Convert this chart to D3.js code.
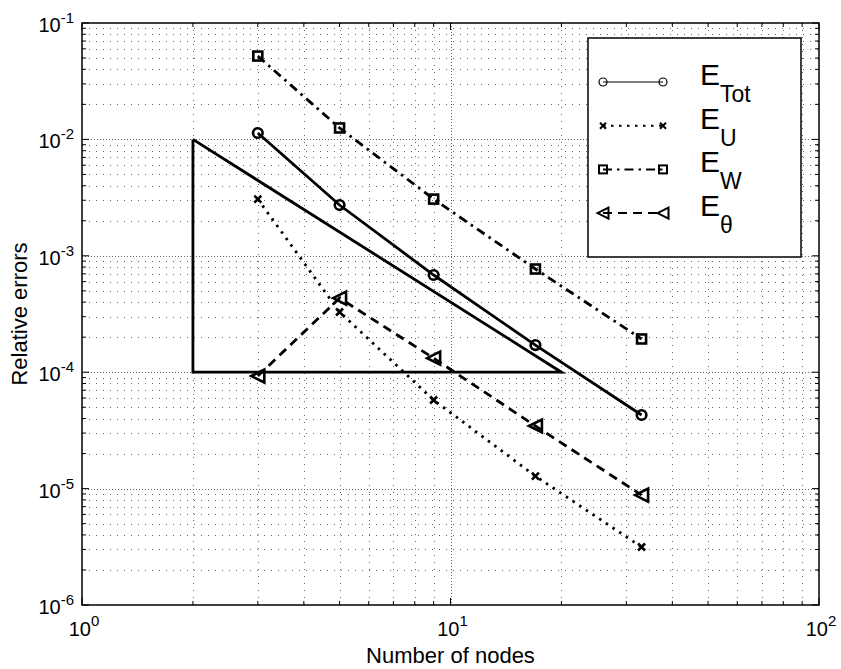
<!DOCTYPE html>
<html>
<head>
<meta charset="utf-8">
<script src="https://cdn.jsdelivr.net/npm/d3@7"></script>
<style>
body { margin: 0; background: #fff; }
text { font-family: "Liberation Sans", Arial, Helvetica, sans-serif; fill: #000; }
</style>
</head>
<body>
<script>
// number of nodes (x) and the four error series
var nodes = [3, 5, 9, 17, 33];
var eTot = [1.135e-2, 2.73e-3, 6.84e-4, 1.71e-4, 4.29e-5];
var eU = [3.07e-3, 3.29e-4, 5.77e-5, 1.28e-5, 3.15e-6];
var eW = [5.2e-2, 1.254e-2, 3.07e-3, 7.7e-4, 1.93e-4];
var eTheta = [9.27e-5, 4.33e-4, 1.32e-4, 3.45e-5, 8.8e-6];
// slope triangle
var triX = [2, 2, 20, 2];
var triY = [1e-2, 1e-4, 1e-4, 1e-2];
var xDecades = [0, 1, 2];
var yDecades = [-6, -5, -4, -3, -2, -1];
var legendNames = ["Tot", "U", "W", "\u03b8"];

var W = 841, H = 669;
// plot box (note: "top" is reserved on window, so short names here)
var pL = 82, pR = 819, pT = 23, pB = 605;

var svg = d3.select("body").append("svg")
  .attr("width", W).attr("height", H);

var x = d3.scaleLog().domain([1, 100]).range([pL, pR]);
var y = d3.scaleLog().domain([1e-6, 1e-1]).range([pB, pT]);

// minor / major positions
var xMinor = [], yMinor = [];
[1, 10].forEach(function(d) { for (var k = 2; k <= 9; k++) xMinor.push(d * k); });
[1e-6, 1e-5, 1e-4, 1e-3, 1e-2].forEach(function(d) { for (var k = 2; k <= 9; k++) yMinor.push(d * k); });
var xMajor = xDecades.map(function(e) { return Math.pow(10, e); });
var yMajor = yDecades.map(function(e) { return Math.pow(10, e); });

var grid = svg.append("g").attr("stroke", "#555").attr("stroke-width", 0.9);
grid.selectAll(".gxm").data(xMinor).enter().append("line")
  .attr("x1", function(d) { return Math.round(x(d)) + 0.5; })
  .attr("x2", function(d) { return Math.round(x(d)) + 0.5; })
  .attr("y1", pT).attr("y2", pB)
  .attr("stroke-dasharray", "1,6");
grid.selectAll(".gym").data(yMinor).enter().append("line")
  .attr("y1", function(d) { return Math.round(y(d)) + 0.5; })
  .attr("y2", function(d) { return Math.round(y(d)) + 0.5; })
  .attr("x1", pL).attr("x2", pR)
  .attr("stroke-dasharray", "1,6");
grid.selectAll(".gxM").data(xMajor.slice(1, -1)).enter().append("line")
  .attr("x1", function(d) { return Math.round(x(d)) + 0.5; })
  .attr("x2", function(d) { return Math.round(x(d)) + 0.5; })
  .attr("y1", pT).attr("y2", pB)
  .attr("stroke-dasharray", "1,2");
grid.selectAll(".gyM").data(yMajor.slice(1, -1)).enter().append("line")
  .attr("y1", function(d) { return Math.round(y(d)) + 0.5; })
  .attr("y2", function(d) { return Math.round(y(d)) + 0.5; })
  .attr("x1", pL).attr("x2", pR)
  .attr("stroke-dasharray", "1,2");

// slope triangle
var line = d3.line().x(function(d) { return x(d[0]); }).y(function(d) { return y(d[1]); });
svg.append("path")
  .attr("d", line(d3.zip(triX, triY)))
  .attr("fill", "none").attr("stroke", "#000").attr("stroke-width", 2.8)
  .attr("stroke-linejoin", "miter");

var series = [
  { vals: eTot, dash: null, marker: "circle" },
  { vals: eU, dash: "2.5,5.5", marker: "x" },
  { vals: eW, dash: "9,5,2.5,5", marker: "square" },
  { vals: eTheta, dash: "9,6", marker: "tri" }
];

function drawMarker(g, type, cx, cy, s, sw) {
  if (type === "circle") {
    g.append("circle").attr("cx", cx).attr("cy", cy).attr("r", s)
      .attr("fill", "none").attr("stroke", "#000").attr("stroke-width", sw);
  } else if (type === "x") {
    g.append("path")
      .attr("d", "M" + (cx - s) + "," + (cy - s) + "L" + (cx + s) + "," + (cy + s) +
        "M" + (cx - s) + "," + (cy + s) + "L" + (cx + s) + "," + (cy - s))
      .attr("stroke", "#000").attr("stroke-width", sw);
  } else if (type === "square") {
    g.append("rect").attr("x", cx - s).attr("y", cy - s).attr("width", 2 * s).attr("height", 2 * s)
      .attr("fill", "none").attr("stroke", "#000").attr("stroke-width", sw);
  } else if (type === "tri") {
    g.append("path")
      .attr("d", "M" + (cx - s) + "," + cy + "L" + (cx + s) + "," + (cy - s) +
        "L" + (cx + s) + "," + (cy + s) + "Z")
      .attr("fill", "none").attr("stroke", "#000").attr("stroke-width", sw)
      .attr("stroke-linejoin", "miter");
  }
}

series.forEach(function(s) {
  svg.append("path")
    .attr("d", line(d3.zip(nodes, s.vals)))
    .attr("fill", "none").attr("stroke", "#000").attr("stroke-width", 2.8)
    .attr("stroke-dasharray", s.dash);
  var mg = svg.append("g");
  nodes.forEach(function(n, i) {
    var size = s.marker === "circle" ? 4.8 : (s.marker === "x" ? 3.5 : (s.marker === "square" ? 4.5 : 6.5));
    drawMarker(mg, s.marker, x(n), y(s.vals[i]), size, 2.6);
  });
});

// axes box and ticks (inside, all four sides)
var ax = svg.append("g").attr("stroke", "#000").attr("stroke-width", 1);
ax.append("rect").attr("x", pL).attr("y", pT).attr("width", pR - pL).attr("height", pB - pT)
  .attr("fill", "none").attr("stroke-width", 1.5);
function xt(vals, len) {
  vals.forEach(function(v) {
    var px = x(v);
    ax.append("line").attr("x1", px).attr("x2", px).attr("y1", pB).attr("y2", pB - len);
    ax.append("line").attr("x1", px).attr("x2", px).attr("y1", pT).attr("y2", pT + len);
  });
}
function yt(vals, len) {
  vals.forEach(function(v) {
    var py = y(v);
    ax.append("line").attr("y1", py).attr("y2", py).attr("x1", pL).attr("x2", pL + len);
    ax.append("line").attr("y1", py).attr("y2", py).attr("x1", pR).attr("x2", pR - len);
  });
}
xt(xMinor, 4); xt(xMajor, 7);
yt(yMinor, 4); yt(yMajor, 7);

// tick labels
xDecades.forEach(function(e) {
  var t = svg.append("text").attr("x", x(Math.pow(10, e)) + 2).attr("y", 636)
    .attr("font-size", 20).attr("text-anchor", "middle");
  t.append("tspan").text("10");
  t.append("tspan").attr("dy", -10).attr("font-size", 15).text(e);
});
yDecades.forEach(function(e) {
  var t = svg.append("text").attr("x", 74).attr("y", y(Math.pow(10, e)) + 9)
    .attr("font-size", 20).attr("text-anchor", "end");
  t.append("tspan").text("10");
  t.append("tspan").attr("dy", -9).attr("font-size", 15).text(e);
});

svg.append("text").attr("x", (pL + pR) / 2).attr("y", 663)
  .attr("text-anchor", "middle").attr("font-size", 22).text("Number of nodes");
svg.append("text").attr("transform", "translate(27," + ((pT + pB) / 2) + ") rotate(-90)")
  .attr("text-anchor", "middle").attr("font-size", 22).text("Relative errors");

// legend
var lg = svg.append("g");
lg.append("rect").attr("x", 588).attr("y", 38).attr("width", 213).attr("height", 219)
  .attr("fill", "#fff").attr("stroke", "#000").attr("stroke-width", 1.5);
series.forEach(function(s, i) {
  var ly = 82 + i * 43.7;
  lg.append("line").attr("x1", 603).attr("x2", 663).attr("y1", ly).attr("y2", ly)
    .attr("stroke", "#000").attr("stroke-width", s.dash ? 2 : 1.2).attr("stroke-dasharray", s.dash);
  var size = s.marker === "circle" ? 4 : (s.marker === "x" ? 3 : (s.marker === "square" ? 4 : 5.5));
  var sw = s.marker === "circle" ? 1.2 : 2;
  drawMarker(lg, s.marker, 603, ly, size, sw);
  drawMarker(lg, s.marker, 663, ly, size, sw);
  var t = lg.append("text").attr("x", 700).attr("y", ly + 3).attr("font-size", 30);
  t.append("tspan").text("E");
  t.append("tspan").attr("dy", 17).attr("font-size", 23).text(legendNames[i]);
});
</script>
</body>
</html>
